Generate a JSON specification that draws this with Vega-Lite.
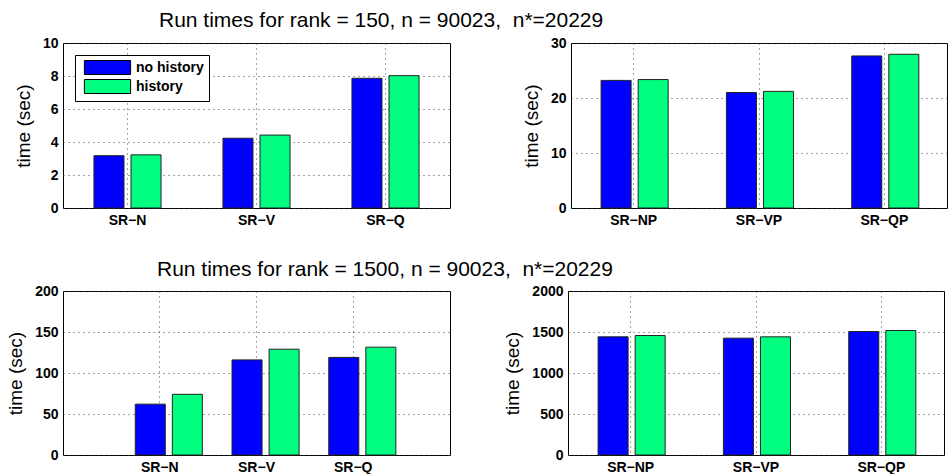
{
  "$schema": "https://vega.github.io/schema/vega-lite/v6.json",
  "padding": {"left": 6, "top": 9, "right": 0, "bottom": 0},
  "background": "white",
  "config": {
    "font": "Liberation Sans",
    "view": {"stroke": "black", "strokeWidth": 1},
    "axis": {
      "labelFont": "Liberation Sans",
      "labelFontWeight": "bold",
      "labelColor": "black",
      "domainColor": "black",
      "ticks": false,
      "gridColor": "#333",
      "gridDash": [1, 4],
      "gridOpacity": 0.9,
      "titleFont": "Liberation Sans",
      "titleFontWeight": "normal",
      "titleColor": "black"
    },
    "axisX": {"labelFontSize": 14, "labelPadding": 5, "labelAngle": 0, "title": null, "domain": false},
    "axisY": {"labelFontSize": 14, "labelPadding": 5, "titleFontSize": 19, "titlePadding": 9, "domain": false, "format": "d"},
    "bar": {"stroke": "#222", "strokeWidth": 1}
  },
  "datasets": {
    "p1": [
      {"cat": "SR−N", "series": "no history", "time": 3.17},
      {"cat": "SR−N", "series": "history", "time": 3.22},
      {"cat": "SR−V", "series": "no history", "time": 4.23},
      {"cat": "SR−V", "series": "history", "time": 4.42},
      {"cat": "SR−Q", "series": "no history", "time": 7.86},
      {"cat": "SR−Q", "series": "history", "time": 8.02}
    ],
    "p2": [
      {"cat": "SR−NP", "series": "no history", "time": 23.2},
      {"cat": "SR−NP", "series": "history", "time": 23.35},
      {"cat": "SR−VP", "series": "no history", "time": 21.0},
      {"cat": "SR−VP", "series": "history", "time": 21.2},
      {"cat": "SR−QP", "series": "no history", "time": 27.65},
      {"cat": "SR−QP", "series": "history", "time": 27.95}
    ],
    "p3": [
      {"cat": "SR−N", "series": "no history", "time": 62},
      {"cat": "SR−N", "series": "history", "time": 74},
      {"cat": "SR−V", "series": "no history", "time": 116},
      {"cat": "SR−V", "series": "history", "time": 129},
      {"cat": "SR−Q", "series": "no history", "time": 119},
      {"cat": "SR−Q", "series": "history", "time": 131.5}
    ],
    "p4": [
      {"cat": "SR−NP", "series": "no history", "time": 1441},
      {"cat": "SR−NP", "series": "history", "time": 1457},
      {"cat": "SR−VP", "series": "no history", "time": 1425},
      {"cat": "SR−VP", "series": "history", "time": 1441},
      {"cat": "SR−QP", "series": "no history", "time": 1506},
      {"cat": "SR−QP", "series": "history", "time": 1518}
    ]
  },
  "resolve": {"scale": {"color": "independent"}, "legend": {"color": "independent"}},
  "spacing": 30,
  "vconcat": [
    {
      "title": {"text": "Run times for rank = 150, n = 90023,\u00a0 n*=20229", "anchor": "start", "frame": "group", "dx": 96, "fontSize": 21, "fontWeight": "normal", "font": "Liberation Sans", "color": "black", "offset": 5},
      "spacing": 70,
      "resolve": {"scale": {"color": "independent"}, "legend": {"color": "independent"}},
      "hconcat": [
        {
          "width": 387, "height": 165,
          "data": {"name": "p1"},
          "mark": "bar",
          "encoding": {
            "x": {"field": "cat", "type": "nominal", "sort": ["SR−N", "SR−V", "SR−Q"], "scale": {"paddingInner": 0.48, "paddingOuter": 0.24}, "axis": {"grid": true, "bandPosition": 0.5}},
            "xOffset": {"field": "series", "type": "nominal", "sort": ["no history", "history"], "scale": {"paddingInner": 0.19}},
            "y": {"field": "time", "type": "quantitative", "title": "time (sec)", "scale": {"domain": [0, 10], "nice": false}, "axis": {"values": [0, 2, 4, 6, 8, 10], "grid": true}},
            "color": {"field": "series", "type": "nominal", "sort": ["no history", "history"],
              "scale": {"domain": ["no history", "history"], "range": ["#0000FF", "#00FF80"]},
              "legend": {"title": null, "orient": "top-left", "offset": 12, "fillColor": "white", "strokeColor": "black", "padding": 5, "symbolType": "M-3.3,-1H3.3V1H-3.3Z", "symbolSize": 196, "symbolStrokeColor": "black", "symbolStrokeWidth": 1, "symbolOpacity": 1, "labelFontSize": 14, "labelFontWeight": "bold", "labelColor": "black", "labelFont": "Liberation Sans", "labelOffset": 21, "rowPadding": 0, "symbolOffset": 20}
            }
          }
        },
        {
          "width": 376, "height": 165,
          "data": {"name": "p2"},
          "mark": "bar",
          "encoding": {
            "x": {"field": "cat", "type": "nominal", "sort": ["SR−NP", "SR−VP", "SR−QP"], "scale": {"paddingInner": 0.48, "paddingOuter": 0.24}, "axis": {"grid": true, "bandPosition": 0.5}},
            "xOffset": {"field": "series", "type": "nominal", "sort": ["no history", "history"], "scale": {"paddingInner": 0.19}},
            "y": {"field": "time", "type": "quantitative", "title": "time (sec)", "scale": {"domain": [0, 30], "nice": false}, "axis": {"values": [0, 10, 20, 30], "grid": true}},
            "color": {"field": "series", "type": "nominal", "scale": {"domain": ["no history", "history"], "range": ["#0000FF", "#00FF80"]}, "legend": null}
          }
        }
      ]
    },
    {
      "title": {"text": "Run times for rank = 1500, n = 90023,\u00a0 n*=20229", "anchor": "start", "frame": "group", "dx": 94, "fontSize": 21, "fontWeight": "normal", "font": "Liberation Sans", "color": "black", "offset": 4},
      "spacing": 52,
      "resolve": {"scale": {"color": "independent"}, "legend": {"color": "independent"}},
      "hconcat": [
        {
          "width": 387, "height": 164,
          "data": {"name": "p3"},
          "mark": "bar",
          "encoding": {
            "x": {"field": "cat", "type": "nominal", "sort": ["SR−N", "SR−V", "SR−Q"], "scale": {"paddingInner": 0.494, "paddingOuter": 0.747}, "axis": {"grid": true, "bandPosition": 0.5}},
            "xOffset": {"field": "series", "type": "nominal", "sort": ["no history", "history"], "scale": {"paddingInner": 0.185}},
            "y": {"field": "time", "type": "quantitative", "title": "time (sec)", "scale": {"domain": [0, 200], "nice": false}, "axis": {"values": [0, 50, 100, 150, 200], "grid": true}},
            "color": {"field": "series", "type": "nominal", "scale": {"domain": ["no history", "history"], "range": ["#0000FF", "#00FF80"]}, "legend": null}
          }
        },
        {
          "width": 376, "height": 164,
          "data": {"name": "p4"},
          "mark": "bar",
          "encoding": {
            "x": {"field": "cat", "type": "nominal", "sort": ["SR−NP", "SR−VP", "SR−QP"], "scale": {"paddingInner": 0.48, "paddingOuter": 0.24}, "axis": {"grid": true, "bandPosition": 0.5}},
            "xOffset": {"field": "series", "type": "nominal", "sort": ["no history", "history"], "scale": {"paddingInner": 0.19}},
            "y": {"field": "time", "type": "quantitative", "title": "time (sec)", "scale": {"domain": [0, 2000], "nice": false}, "axis": {"values": [0, 500, 1000, 1500, 2000], "grid": true}},
            "color": {"field": "series", "type": "nominal", "scale": {"domain": ["no history", "history"], "range": ["#0000FF", "#00FF80"]}, "legend": null}
          }
        }
      ]
    }
  ]
}
